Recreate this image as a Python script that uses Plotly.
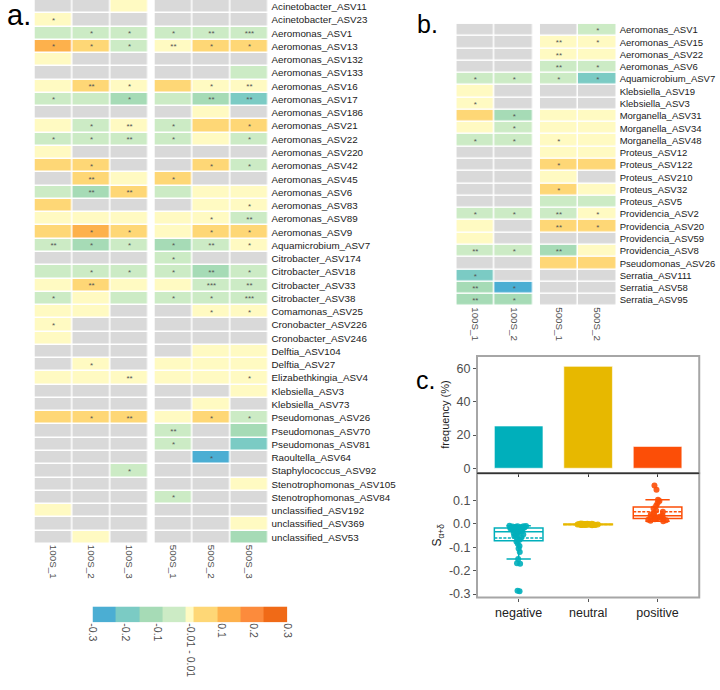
import plotly.graph_objects as go

# ---------------- Panel a data ----------------
rows_a = ["Acinetobacter_ASV11", "Acinetobacter_ASV23", "Aeromonas_ASV1", "Aeromonas_ASV13",
          "Aeromonas_ASV132", "Aeromonas_ASV133", "Aeromonas_ASV16", "Aeromonas_ASV17",
          "Aeromonas_ASV186", "Aeromonas_ASV21", "Aeromonas_ASV22", "Aeromonas_ASV220",
          "Aeromonas_ASV42", "Aeromonas_ASV45", "Aeromonas_ASV6", "Aeromonas_ASV83",
          "Aeromonas_ASV89", "Aeromonas_ASV9", "Aquamicrobium_ASV7", "Citrobacter_ASV174",
          "Citrobacter_ASV18", "Citrobacter_ASV33", "Citrobacter_ASV38", "Comamonas_ASV25",
          "Cronobacter_ASV226", "Cronobacter_ASV246", "Delftia_ASV104", "Delftia_ASV27",
          "Elizabethkingia_ASV4", "Klebsiella_ASV3", "Klebsiella_ASV73", "Pseudomonas_ASV26",
          "Pseudomonas_ASV70", "Pseudomonas_ASV81", "Raoultella_ASV64", "Staphylococcus_ASV92",
          "Stenotrophomonas_ASV105", "Stenotrophomonas_ASV84", "unclassified_ASV192",
          "unclassified_ASV369", "unclassified_ASV53"]
cols_a1 = ["100S_1", "100S_2", "100S_3"]
cols_a2 = ["500S_1", "500S_2", "500S_3"]
N = None
a_100S_1 = [N, 0.0, -0.05, 0.15, 0.0, N, 0.0, -0.05, N, 0.0, -0.05, 0.0, 0.06, N, -0.05, 0.06, 0.0, 0.06,
            -0.05, N, -0.05, 0.0, -0.05, 0.0, 0.0, 0.0, N, N, 0.0, N, N, 0.06, N, N, N, N, N, N, 0.0, N, N]
a_100S_2 = [N, N, -0.05, 0.06, N, N, 0.06, -0.05, N, -0.05, -0.05, N, 0.06, 0.06, -0.15, N, 0.0, 0.15,
            -0.15, N, -0.05, 0.06, 0.0, 0.0, N, N, N, 0.0, 0.0, N, N, 0.06, N, N, N, N, N, N, N, N, 0.0]
a_100S_3 = [0.0, N, -0.05, -0.05, N, N, 0.0, -0.15, N, 0.0, -0.05, N, N, 0.0, 0.06, N, 0.0, 0.06,
            -0.05, N, -0.05, 0.0, -0.05, N, N, N, N, N, 0.0, N, N, 0.06, N, N, N, -0.05, N, N, N, N, N]
a_500S_1 = [N, N, -0.05, 0.0, N, N, 0.06, -0.05, N, -0.05, -0.05, N, N, 0.06, -0.05, N, 0.0, 0.0,
            -0.15, -0.05, -0.05, 0.0, -0.05, N, N, N, N, 0.0, 0.0, N, N, 0.0, -0.05, -0.05, N, N, N, -0.05, N, N, N]
a_500S_2 = [N, N, -0.05, 0.06, N, N, 0.0, -0.15, 0.0, 0.06, 0.0, N, 0.06, N, 0.0, 0.0, 0.0, 0.06,
            -0.05, N, -0.15, -0.05, -0.05, 0.0, N, N, 0.0, 0.0, 0.0, N, 0.0, 0.06, N, N, -0.32, N, N, N, N, N, N]
a_500S_3 = [N, N, -0.05, 0.06, N, -0.05, 0.0, -0.25, N, 0.06, -0.05, N, -0.05, N, 0.0, 0.0, -0.05, 0.06,
            0.0, N, -0.05, -0.05, -0.05, 0.0, N, N, 0.0, 0.0, 0.0, 0.0, N, -0.05, -0.15, -0.25, N, N, 0.0, N, N, 0.0, -0.15]

sig_a_100S_1 = ["", "*", "", "*", "", "", "", "*", "", "", "*", "", "", "", "", "", "", "",
                "**", "", "", "", "*", "", "*", "", "", "", "", "", "", "", "", "", "", "", "", "", "", "", ""]
sig_a_100S_2 = ["", "", "*", "*", "", "", "**", "", "", "*", "*", "", "*", "**", "**", "", "", "*",
                "*", "", "*", "**", "", "", "", "", "", "*", "", "", "", "*", "", "", "", "", "", "", "", "", ""]
sig_a_100S_3 = ["", "", "*", "*", "", "", "*", "*", "", "**", "**", "", "", "", "**", "", "", "*",
                "*", "", "*", "", "", "", "", "", "", "", "**", "", "", "**", "", "", "", "*", "", "", "", "", ""]
sig_a_500S_1 = ["", "", "*", "**", "", "", "", "", "", "*", "*", "", "", "*", "", "", "", "",
                "*", "*", "*", "", "*", "", "", "", "", "", "", "", "", "", "**", "*", "", "", "", "*", "", "", ""]
sig_a_500S_2 = ["", "", "**", "*", "", "", "*", "**", "", "", "", "", "*", "", "", "", "*", "*",
                "**", "", "**", "***", "*", "*", "", "", "", "", "", "", "", "*", "", "", "*", "", "", "", "", "", ""]
sig_a_500S_3 = ["", "", "***", "*", "", "", "**", "**", "", "*", "*", "", "*", "", "", "*", "**", "*",
                "*", "", "*", "**", "***", "*", "", "", "", "", "*", "", "", "*", "", "", "", "", "", "", "", "", ""]

# ---------------- Panel b data ----------------
rows_b = ["Aeromonas_ASV1", "Aeromonas_ASV15", "Aeromonas_ASV22", "Aeromonas_ASV6", "Aquamicrobium_ASV7",
          "Klebsiella_ASV19", "Klebsiella_ASV3", "Morganella_ASV31", "Morganella_ASV34", "Morganella_ASV48",
          "Proteus_ASV12", "Proteus_ASV122", "Proteus_ASV210", "Proteus_ASV32", "Proteus_ASV5",
          "Providencia_ASV2", "Providencia_ASV20", "Providencia_ASV59", "Providencia_ASV8",
          "Pseudomonas_ASV26", "Serratia_ASV111", "Serratia_ASV58", "Serratia_ASV95"]
cols_b1 = ["100S_1", "100S_2"]
cols_b2 = ["500S_1", "500S_2"]
b_100S_1 = [N, N, N, N, -0.05, 0.0, 0.0, 0.06, 0.0, -0.05, N, N, N, N, N, -0.05, 0.0, 0.0, -0.05, N, -0.25, -0.15, -0.15]
b_100S_2 = [N, N, N, N, -0.05, N, N, -0.15, -0.05, -0.05, N, N, N, N, N, -0.05, N, N, -0.05, N, N, -0.32, -0.15]
b_500S_1 = [N, 0.0, 0.0, -0.05, -0.05, N, N, 0.0, 0.0, 0.0, 0.0, 0.06, 0.0, 0.06, -0.05, -0.05, 0.06, N, -0.15, 0.06, N, N, N]
b_500S_2 = [-0.05, 0.0, 0.0, -0.05, -0.25, N, N, 0.0, 0.0, 0.0, 0.0, 0.06, N, 0.0, -0.05, 0.0, 0.06, N, 0.0, 0.06, N, N, N]
sig_b_100S_1 = ["", "", "", "", "*", "", "*", "", "", "*", "", "", "", "", "", "*", "", "", "**", "", "*", "**", "**"]
sig_b_100S_2 = ["", "", "", "", "*", "", "", "*", "*", "*", "", "", "", "", "", "*", "", "", "*", "", "", "*", "*"]
sig_b_500S_1 = ["", "**", "**", "**", "*", "", "", "", "", "*", "", "*", "", "*", "", "**", "**", "", "**", "", "", "", ""]
sig_b_500S_2 = ["*", "*", "", "*", "*", "", "", "", "", "", "", "", "", "", "", "*", "*", "", "", "", "", "", ""]

# ---------------- Legend ----------------
legend_labels = ["-0.3", "-0.2", "-0.1", "-0.01 - 0.01", "0.1", "0.2", "0.3"]

# ---------------- Panel c data ----------------
categories_c = ["negative", "neutral", "positive"]
frequency = [25.5, 61.5, 13.2]
s_negative = [-0.008, -0.009, -0.010, -0.010, -0.011, -0.012, -0.013, -0.014, -0.015, -0.016,
              -0.018, -0.019, -0.020, -0.021, -0.022, -0.024, -0.026, -0.028, -0.030, -0.033,
              -0.035, -0.038, -0.040, -0.042, -0.045, -0.048, -0.052, -0.058, -0.062, -0.068,
              -0.075, -0.085, -0.095, -0.105, -0.120, -0.150, -0.168, -0.170, -0.286, -0.288]
s_neutral = [-0.006, -0.005, -0.005, -0.004, -0.004, -0.004, -0.003, -0.003, -0.003, -0.003,
             -0.002, -0.002, -0.002, -0.002, -0.001, -0.001, -0.001, 0.0, 0.0, 0.0,
             0.001, 0.001, 0.002, -0.004, -0.002, -0.003, -0.001, 0.0, -0.005, 0.001]
s_positive = [0.165, 0.146, 0.103, 0.098, 0.088, 0.078, 0.066, 0.058, 0.052, 0.046, 0.040, 0.036,
              0.034, 0.032, 0.030, 0.028, 0.026, 0.024, 0.022, 0.020, 0.018, 0.016, 0.014, 0.012]

# ---------------- styling ----------------
level_colors = ["#D9D9D9", "#4BAED3", "#7BCBC4", "#A6DBB6", "#CCEBC5", "#FFFAC2",
                "#FED776", "#FDB14C", "#FC8B3C", "#F06A17"]
group_colors = ["#00AFBB", "#E7B800", "#FC4E07"]
FONT = "Liberation Sans, Arial, sans-serif"
W, H = 720, 690


def level(v):
    if v is None:
        return 0
    if v < -0.3:
        return 1
    if v < -0.2:
        return 2
    if v < -0.1:
        return 3
    if v < -0.01:
        return 4
    if v <= 0.01:
        return 5
    if v <= 0.1:
        return 6
    if v <= 0.2:
        return 7
    if v <= 0.3:
        return 8
    return 9


colorscale = []
for i, c in enumerate(level_colors):
    colorscale.append([i / len(level_colors), c])
    colorscale.append([(i + 1) / len(level_colors), c])


def matrix(cols):
    return [[level(col[r]) for col in cols] for r in range(len(cols[0]))]


def textm(cols):
    return [[col[r] for col in cols] for r in range(len(cols[0]))]


def hm(x, y, cols, sigs, xa, ya):
    return go.Heatmap(x=x, y=y, z=matrix(cols), text=textm(sigs), texttemplate="%{text}",
                      textfont=dict(size=8, color="#555555", family=FONT),
                      colorscale=colorscale, zmin=-0.5, zmax=len(level_colors) - 0.5,
                      showscale=False, xgap=1.5, ygap=1.5, hoverinfo="skip",
                      xaxis=xa, yaxis=ya)


def px(x0, x1):
    return [x0 / W, x1 / W]


def py(top, bottom):
    return [1 - bottom / H, 1 - top / H]


fig = go.Figure()
fig.add_trace(hm(cols_a1, rows_a, [a_100S_1, a_100S_2, a_100S_3],
                 [sig_a_100S_1, sig_a_100S_2, sig_a_100S_3], "x", "y"))
fig.add_trace(hm(cols_a2, rows_a, [a_500S_1, a_500S_2, a_500S_3],
                 [sig_a_500S_1, sig_a_500S_2, sig_a_500S_3], "x2", "y"))
fig.add_trace(hm(cols_b1, rows_b, [b_100S_1, b_100S_2], [sig_b_100S_1, sig_b_100S_2], "x3", "y2"))
fig.add_trace(hm(cols_b2, rows_b, [b_500S_1, b_500S_2], [sig_b_500S_1, sig_b_500S_2], "x4", "y2"))

# legend strip
leg_edges = [0, 1, 2, 3, 4, 4.337, 5.337, 6.337, 7.337, 8.337]
leg_ticks = [0, 1.39, 2.78, 4.17, 5.52, 6.9, 8.337]
fig.add_trace(go.Heatmap(x=leg_edges, y=[0, 1], z=[list(range(1, 10))], colorscale=colorscale,
                         zmin=-0.5, zmax=len(level_colors) - 0.5, showscale=False, hoverinfo="skip",
                         xaxis="x5", yaxis="y3"))

# panel c
fig.add_trace(go.Bar(x=categories_c, y=frequency, marker=dict(color=group_colors,
                     line=dict(color="rgba(255,255,255,0.6)", width=1)), width=0.7,
                     xaxis="x6", yaxis="y4", showlegend=False))
for cat, vals, col in zip(categories_c, [s_negative, s_neutral, s_positive], group_colors):
    fig.add_trace(go.Box(x=[cat] * len(vals), y=vals, boxpoints="all", jitter=0.45, pointpos=0,
                         boxmean=True, width=0.7, fillcolor="white",
                         line=dict(color=col, width=1.5),
                         marker=dict(color=col, size=6, opacity=0.9),
                         xaxis="x7", yaxis="y5", showlegend=False, hoverinfo="skip"))

heat_x = dict(showgrid=False, zeroline=False, ticks="", tickangle=90,
              tickfont=dict(size=9.8, color="#4d4d4d", family=FONT), showline=False)
heat_y = dict(showgrid=False, zeroline=False, ticks="", autorange="reversed", side="right",
              ticklabelstandoff=2, showline=False)

fig.update_layout(
    width=W, height=H, margin=dict(l=0, r=0, t=0, b=0),
    paper_bgcolor="white", plot_bgcolor="white", showlegend=False,
    font=dict(family=FONT),
    xaxis=dict(heat_x, domain=px(30, 146), anchor="y"),
    xaxis2=dict(heat_x, domain=px(152, 268), anchor="y"),
    yaxis=dict(heat_y, domain=py(0, 547), anchor="x2",
               tickfont=dict(size=9.8, color="#1a1a1a", family=FONT)),
    xaxis3=dict(heat_x, domain=px(459, 537), anchor="y2"),
    xaxis4=dict(heat_x, domain=px(544, 622), anchor="y2"),
    yaxis2=dict(heat_y, domain=py(24, 308), anchor="x4",
                tickfont=dict(size=9.5, color="#1a1a1a", family=FONT)),
    xaxis5=dict(domain=px(89, 287), anchor="y3", range=[0, 8.337], tickvals=leg_ticks,
                ticktext=legend_labels, tickangle=90, ticks="", showgrid=False, zeroline=False,
                tickfont=dict(size=10.5, color="#4d4d4d", family=FONT)),
    yaxis3=dict(domain=py(610, 626), anchor="x5", range=[0, 1], visible=False),
    xaxis6=dict(domain=px(480, 706), anchor="y4", range=[-0.6, 2.6], showticklabels=False,
                ticks="outside", ticklen=3, tickcolor="#333333", showgrid=False, zeroline=False,
                categoryorder="array", categoryarray=categories_c),
    yaxis4=dict(domain=py(358, 476), anchor="x6", range=[-3, 67.8], tickvals=[0, 20, 40, 60],
                ticks="outside", ticklen=3, tickcolor="#555555", showgrid=False, zeroline=False,
                tickfont=dict(size=12.5, color="#4d4d4d", family=FONT),
                title=dict(text="frequency (%)", font=dict(size=11, color="#222222"), standoff=4)),
    xaxis7=dict(domain=px(480, 706), anchor="y5", range=[-0.6, 2.6], ticks="outside", ticklen=3,
                tickcolor="#555555", showgrid=False, zeroline=False,
                categoryorder="array", categoryarray=categories_c,
                tickfont=dict(size=12.5, color="#222222", family=FONT)),
    yaxis5=dict(domain=py(476, 601), anchor="x7", range=[-0.315, 0.217],
                tickvals=[-0.3, -0.2, -0.1, 0.0, 0.1], ticktext=["-0.3", "-0.2", "-0.1", "0.0", "0.1"],
                ticks="outside", ticklen=3, tickcolor="#555555", showgrid=False, zeroline=False,
                tickfont=dict(size=12.5, color="#4d4d4d", family=FONT),
                title=dict(text="S<sub>α+δ</sub>", font=dict(size=12, color="#222222"), standoff=4)),
)

frame = dict(color="#A6A6A6", width=2)
fig.add_shape(type="rect", xref="x6 domain", yref="y4 domain", x0=0, x1=1, y0=0, y1=1, line=frame)
fig.add_shape(type="rect", xref="x7 domain", yref="y5 domain", x0=0, x1=1, y0=0, y1=1, line=frame)
fig.add_shape(type="line", xref="x6 domain", yref="y4 domain", x0=0, x1=1, y0=0, y1=0,
              line=dict(color="#333333", width=1.5))

for txt, x, y, s in [("a.", 0, 15, 29), ("b.", 417, 24, 25), ("c.", 416, 382, 25)]:
    fig.add_annotation(text=txt, xref="paper", yref="paper", x=x / W, y=1 - y / H,
                       xanchor="left", yanchor="middle", showarrow=False,
                       font=dict(size=s, color="black", family=FONT))

fig.write_html("out.html", config={"displayModeBar": False},
               post_script="document.body.style.margin='0px';document.body.style.overflow='hidden';")
